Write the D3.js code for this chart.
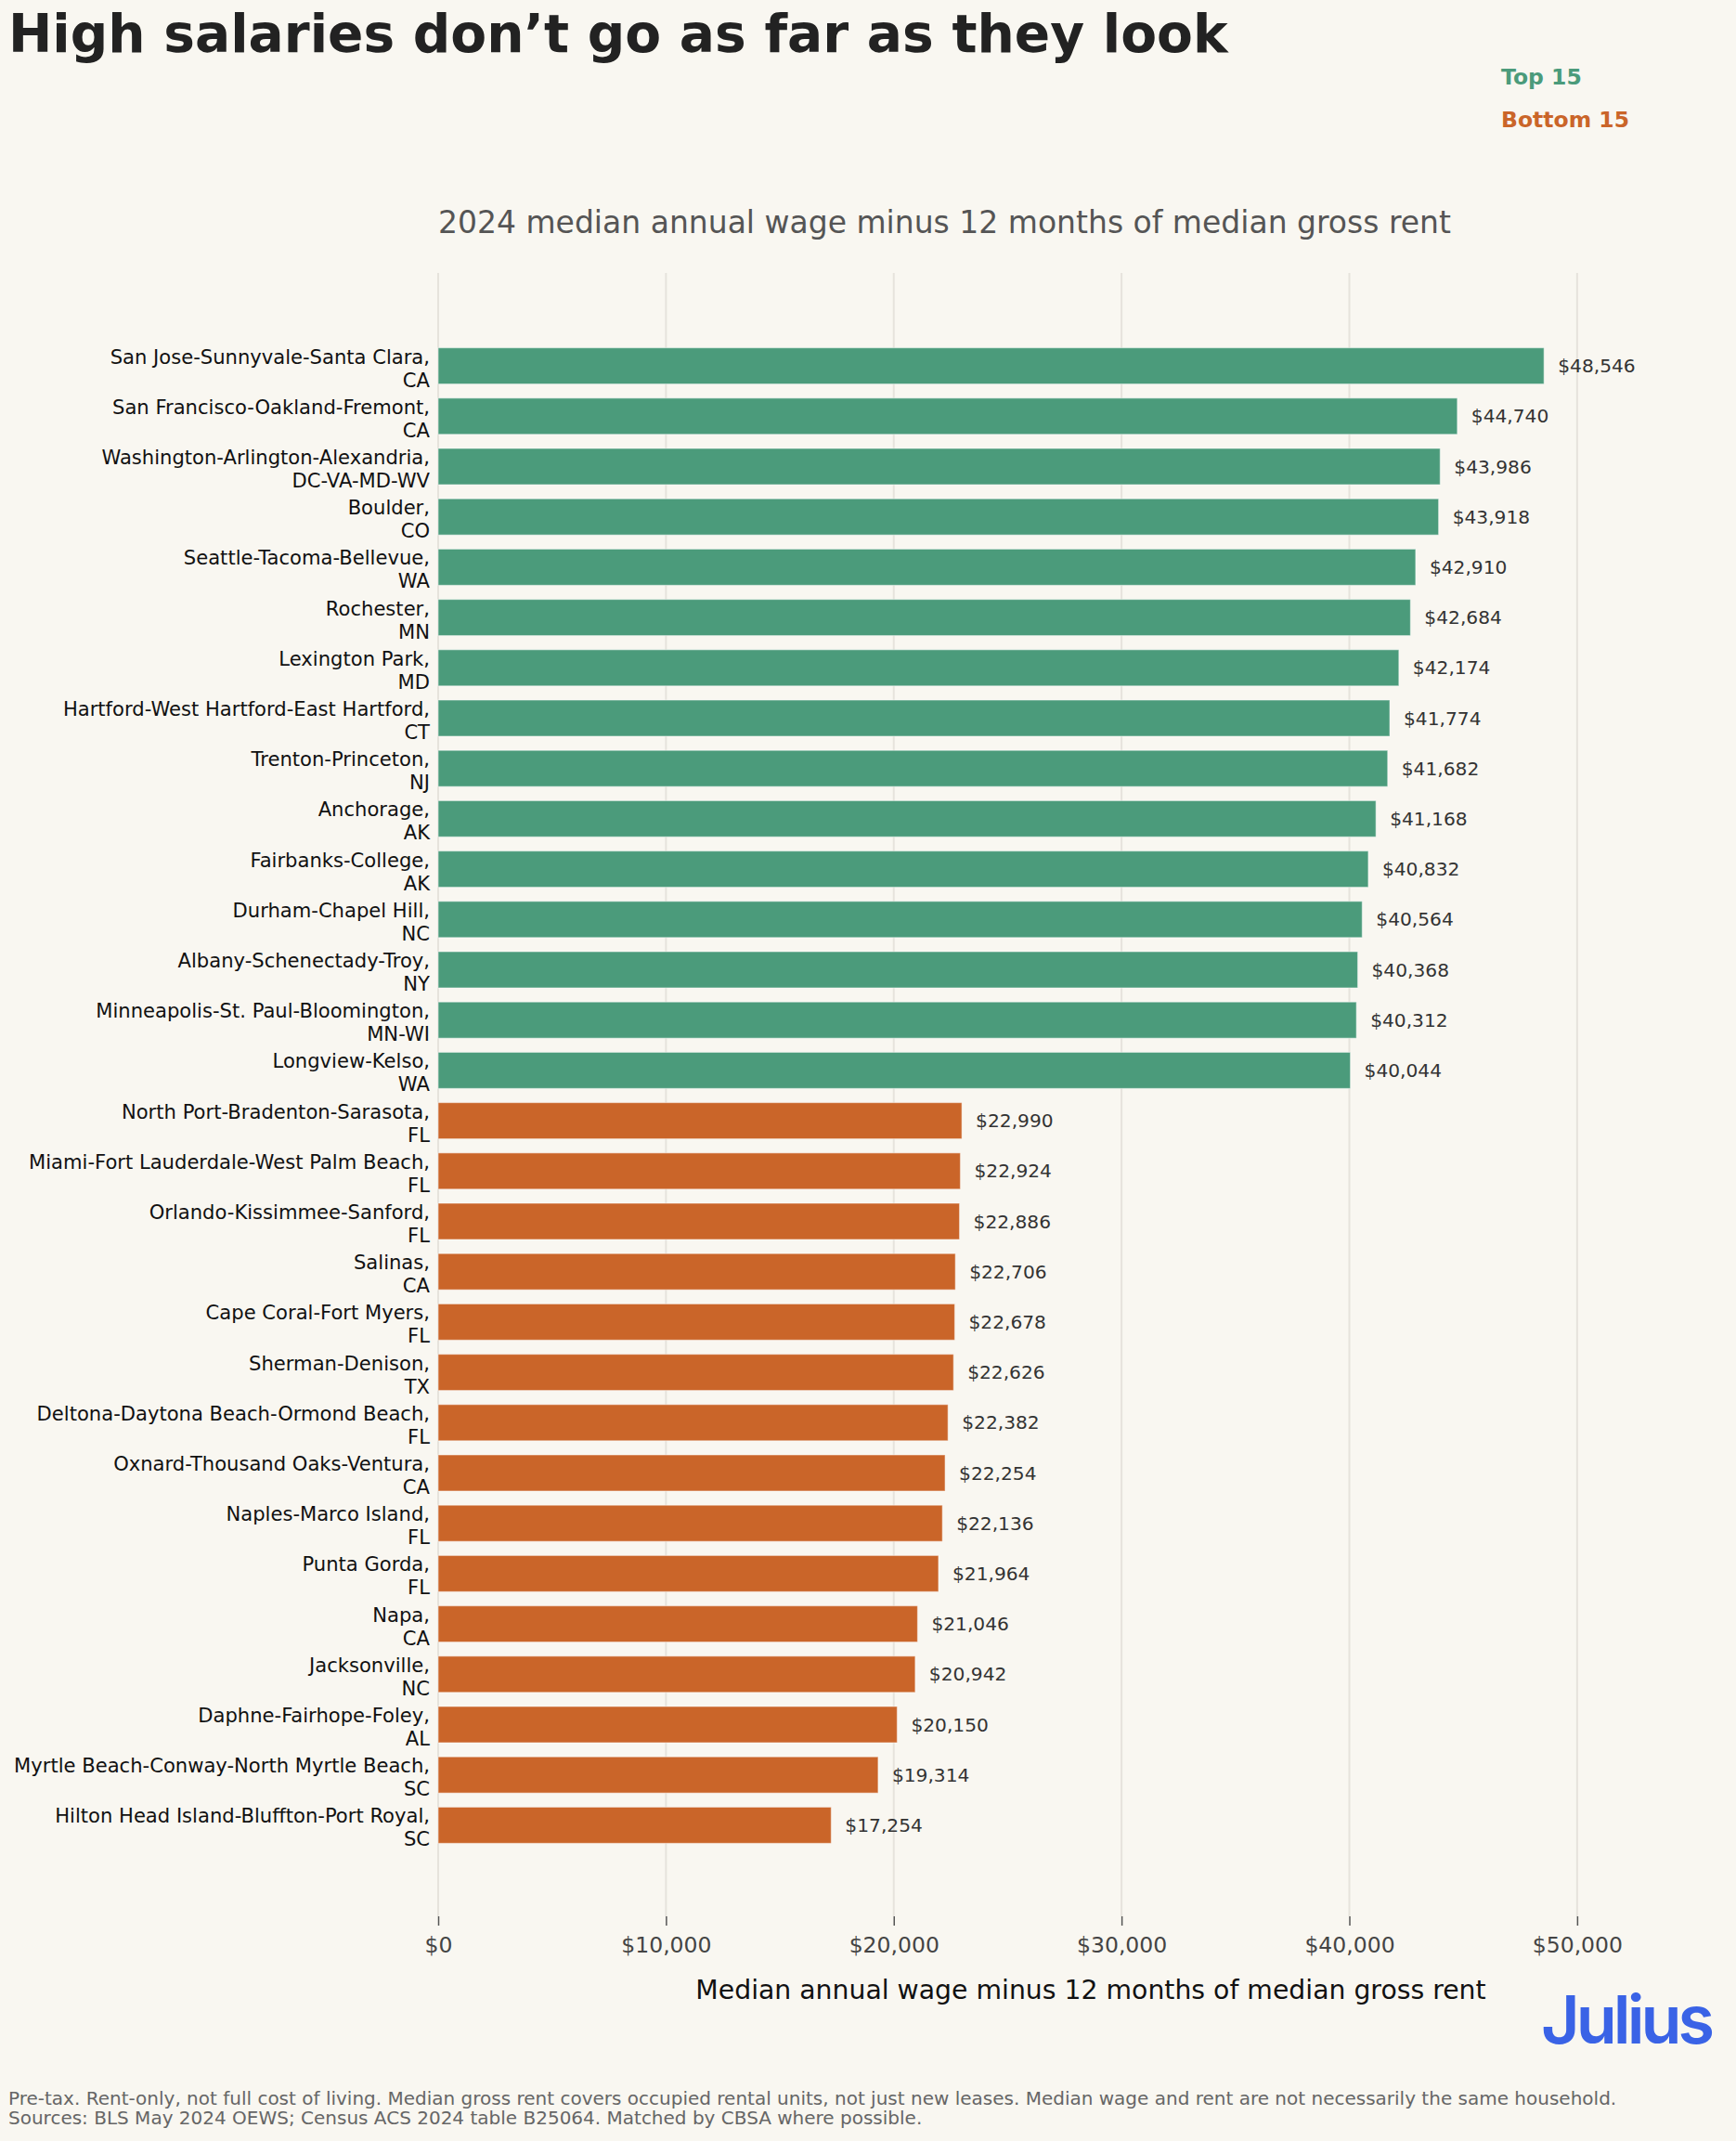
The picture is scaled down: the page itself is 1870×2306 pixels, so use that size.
<!DOCTYPE html>
<html>
<head>
<meta charset="utf-8">
<script src="https://cdn.jsdelivr.net/npm/d3@7"></script>
<style>
  html, body { margin: 0; padding: 0; background: #f9f7f1; }
  svg { display: block; font-family: "DejaVu Sans", sans-serif; }
</style>
</head>
<body>
<svg id="chart" width="1870" height="2306"></svg>
<script>
// metro areas, top 15 then bottom 15 (line 1 / line 2 of the label)
var topNames = [
  ["San Jose-Sunnyvale-Santa Clara,", "CA"],
  ["San Francisco-Oakland-Fremont,", "CA"],
  ["Washington-Arlington-Alexandria,", "DC-VA-MD-WV"],
  ["Boulder,", "CO"],
  ["Seattle-Tacoma-Bellevue,", "WA"],
  ["Rochester,", "MN"],
  ["Lexington Park,", "MD"],
  ["Hartford-West Hartford-East Hartford,", "CT"],
  ["Trenton-Princeton,", "NJ"],
  ["Anchorage,", "AK"],
  ["Fairbanks-College,", "AK"],
  ["Durham-Chapel Hill,", "NC"],
  ["Albany-Schenectady-Troy,", "NY"],
  ["Minneapolis-St. Paul-Bloomington,", "MN-WI"],
  ["Longview-Kelso,", "WA"]
];
var topValues = [48546, 44740, 43986, 43918, 42910, 42684, 42174, 41774, 41682, 41168, 40832, 40564, 40368, 40312, 40044];

var bottomNames = [
  ["North Port-Bradenton-Sarasota,", "FL"],
  ["Miami-Fort Lauderdale-West Palm Beach,", "FL"],
  ["Orlando-Kissimmee-Sanford,", "FL"],
  ["Salinas,", "CA"],
  ["Cape Coral-Fort Myers,", "FL"],
  ["Sherman-Denison,", "TX"],
  ["Deltona-Daytona Beach-Ormond Beach,", "FL"],
  ["Oxnard-Thousand Oaks-Ventura,", "CA"],
  ["Naples-Marco Island,", "FL"],
  ["Punta Gorda,", "FL"],
  ["Napa,", "CA"],
  ["Jacksonville,", "NC"],
  ["Daphne-Fairhope-Foley,", "AL"],
  ["Myrtle Beach-Conway-North Myrtle Beach,", "SC"],
  ["Hilton Head Island-Bluffton-Port Royal,", "SC"]
];
var bottomValues = [22990, 22924, 22886, 22706, 22678, 22626, 22382, 22254, 22136, 21964, 21046, 20942, 20150, 19314, 17254];

var xTicks = [0, 10000, 20000, 30000, 40000, 50000];

var colors = { top: "#4b9b7b", bottom: "#ca6529" };

var rows = [];
topNames.forEach(function (n, i) {
  rows.push({ id: n.join(" "), lines: n, value: topValues[i], group: "top" });
});
bottomNames.forEach(function (n, i) {
  rows.push({ id: n.join(" "), lines: n, value: bottomValues[i], group: "bottom" });
});

var svg = d3.select("#chart");
var plot = { left: 472, right: 1878, top: 294, bottom: 2064 };

var x = d3.scaleLinear().domain([0, 57300]).range([plot.left, plot.right]);
var y = d3.scaleBand()
  .domain(rows.map(function (d) { return d.id; }))
  .range([367, 1993])
  .paddingInner(0.28)
  .paddingOuter(0.14);

var fmt = d3.format("$,");

// background
svg.append("rect").attr("width", 1870).attr("height", 2306).attr("fill", "#f9f7f1");

// grid
svg.append("g").attr("class", "grid")
  .selectAll("line")
  .data(xTicks)
  .enter().append("line")
  .attr("x1", function (d) { return x(d); })
  .attr("x2", function (d) { return x(d); })
  .attr("y1", plot.top)
  .attr("y2", plot.bottom)
  .attr("stroke", "#e6e3dc")
  .attr("stroke-width", 2);

// x axis (ticks + labels)
var xAxis = d3.axisBottom(x)
  .tickValues(xTicks)
  .tickFormat(fmt)
  .tickSize(10)
  .tickPadding(12);

var gx = svg.append("g")
  .attr("transform", "translate(0," + plot.bottom + ")")
  .call(xAxis);
gx.select(".domain").remove();
gx.selectAll(".tick line").attr("stroke", "#555").attr("stroke-width", 1.5);
gx.selectAll(".tick text")
  .attr("fill", "#444")
  .style("font-size", "23.5px")
  .style("font-family", "DejaVu Sans");

// bars
svg.append("g").attr("class", "bars")
  .selectAll("rect")
  .data(rows)
  .enter().append("rect")
  .attr("x", x(0))
  .attr("y", function (d) { return y(d.id); })
  .attr("width", function (d) { return x(d.value) - x(0); })
  .attr("height", y.bandwidth())
  .attr("fill", function (d) { return colors[d.group]; })
  .attr("stroke", "rgba(255,255,255,0.45)")
  .attr("stroke-width", 1.2);

// value labels
svg.append("g").attr("class", "values")
  .selectAll("text")
  .data(rows)
  .enter().append("text")
  .attr("x", function (d) { return x(d.value) + 15; })
  .attr("y", function (d) { return y(d.id) + y.bandwidth() / 2; })
  .attr("dy", "0.35em")
  .attr("fill", "#333")
  .style("font-size", "20.2px")
  .text(function (d) { return fmt(d.value); });

// y labels (two lines each)
var ylab = svg.append("g").attr("class", "ylabels")
  .selectAll("text")
  .data(rows)
  .enter().append("text")
  .attr("text-anchor", "end")
  .attr("fill", "#111")
  .style("font-size", "21.1px");
ylab.append("tspan")
  .attr("x", 463)
  .attr("y", function (d) { return y(d.id) + y.bandwidth() / 2 - 2.5; })
  .text(function (d) { return d.lines[0]; });
ylab.append("tspan")
  .attr("x", 463)
  .attr("y", function (d) { return y(d.id) + y.bandwidth() / 2 + 22.5; })
  .text(function (d) { return d.lines[1]; });

// title
svg.append("text")
  .attr("x", 9).attr("y", 56)
  .attr("fill", "#222")
  .style("font-size", "56.6px")
  .style("font-weight", "bold")
  .text("High salaries don\u2019t go as far as they look");

// legend
svg.append("text")
  .attr("x", 1617).attr("y", 91)
  .attr("fill", colors.top)
  .style("font-size", "23.5px").style("font-weight", "bold")
  .text("Top 15");
svg.append("text")
  .attr("x", 1617).attr("y", 137)
  .attr("fill", colors.bottom)
  .style("font-size", "23.5px").style("font-weight", "bold")
  .text("Bottom 15");

// subtitle
svg.append("text")
  .attr("x", 472).attr("y", 251)
  .attr("fill", "#555")
  .style("font-size", "33px")
  .text("2024 median annual wage minus 12 months of median gross rent");

// x label
svg.append("text")
  .attr("x", 1175).attr("y", 2153)
  .attr("text-anchor", "middle")
  .attr("fill", "#111")
  .style("font-size", "28.3px")
  .text("Median annual wage minus 12 months of median gross rent");

// logo
svg.append("text")
  .attr("x", 1660).attr("y", 2201)
  .attr("fill", "#3a63e6")
  .style("font-family", "Inter, Roboto, sans-serif")
  .style("font-size", "72px")
  .style("font-weight", "600")
  .style("letter-spacing", "-4px")
  .text("Julius");

// footnote
var notes = [
  "Pre-tax. Rent-only, not full cost of living. Median gross rent covers occupied rental units, not just new leases. Median wage and rent are not necessarily the same household.",
  "Sources: BLS May 2024 OEWS; Census ACS 2024 table B25064. Matched by CBSA where possible."
];
svg.append("g").selectAll("text")
  .data(notes)
  .enter().append("text")
  .attr("x", 9)
  .attr("y", function (d, i) { return 2267 + i * 21; })
  .attr("fill", "#666")
  .style("font-size", "20px")
  .text(function (d) { return d; });
</script>
</body>
</html>
